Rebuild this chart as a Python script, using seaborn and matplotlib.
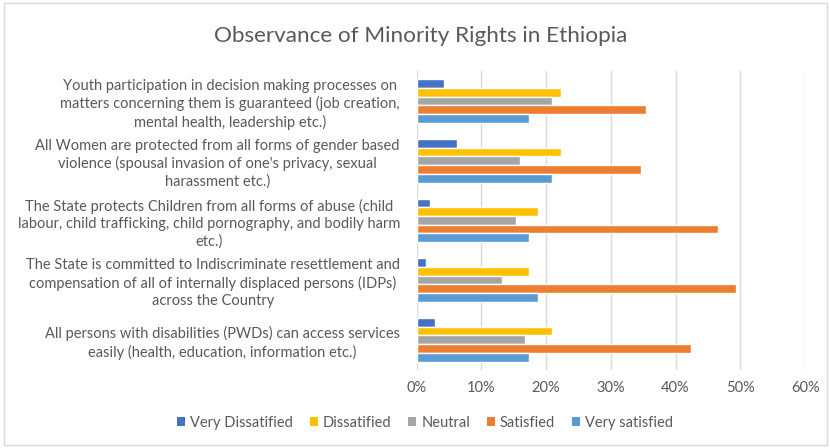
import matplotlib
matplotlib.use("Agg")
import matplotlib.pyplot as plt
import seaborn as sns
import pandas as pd
from matplotlib.patches import Rectangle, Patch
from matplotlib.ticker import FuncFormatter

categories = [
    "Youth participation in decision making processes on\nmatters concerning them is guaranteed (job creation,\nmental health, leadership etc.)",
    "All Women are protected from all forms of gender based\nviolence (spousal invasion of one's privacy, sexual\nharassment etc.)",
    "The State protects Children from all forms of abuse (child\nlabour, child trafficking, child pornography, and bodily harm\netc.)",
    "The State is committed to Indiscriminate resettlement and\ncompensation of all of internally displaced persons (IDPs)\nacross the Country",
    "All persons with disabilities (PWDs) can access services\neasily (health, education, information etc.)",
]
series = ["Very Dissatified", "Dissatified", "Neutral", "Satisfied", "Very satisfied"]
very_dissatisfied = [4.17, 6.25, 2.08, 1.39, 2.78]
dissatisfied = [22.22, 22.22, 18.75, 17.36, 20.83]
neutral = [20.83, 15.97, 15.28, 13.19, 16.67]
satisfied = [35.42, 34.72, 46.53, 49.31, 42.36]
very_satisfied = [17.36, 20.83, 17.36, 18.75, 17.36]
x_ticks = [0, 10, 20, 30, 40, 50, 60]
colors = ["#4472C4", "#FFC000", "#A5A5A5", "#ED7D31", "#5B9BD5"]

values = [very_dissatisfied, dissatisfied, neutral, satisfied, very_satisfied]
rows = []
for s, vals in zip(series, values):
    for c, v in zip(categories, vals):
        rows.append({"category": c, "series": s, "value": v})
df = pd.DataFrame(rows)

sns.set_theme(style="white")
plt.rcParams["font.family"] = ["Lato", "DejaVu Sans"]

fig = plt.figure(figsize=(8.3, 4.48), dpi=100)
ax = fig.add_axes([0.502, 0.175, 0.468, 0.666])

sns.barplot(data=df, y="category", x="value", hue="series", hue_order=series,
            order=categories, palette=colors, width=0.73, orient="h",
            saturation=1, ax=ax, legend=False)

ax.set_xlim(0, 60)
ax.set_xticks(x_ticks)
ax.xaxis.set_major_formatter(FuncFormatter(lambda v, p: f"{v:.0f}%"))
ax.set_xlabel("")
ax.set_ylabel("")
for sp in ax.spines.values():
    sp.set_visible(False)
ax.grid(axis="x", color="#D9D9D9", linewidth=1)
ax.grid(axis="y", visible=False)
ax.set_axisbelow(True)
ax.tick_params(axis="y", length=0, pad=12, labelsize=10.5, labelcolor="#595959")
ax.tick_params(axis="x", length=0, pad=8, labelsize=10.5, labelcolor="#595959")
for t in ax.get_yticklabels():
    t.set_multialignment("center")
    t.set_linespacing(1.3)

fig.text(421 / 830, 1 - 36 / 448, "Observance of Minority Rights in Ethiopia",
         ha="center", va="center", fontsize=16.2, color="#595959")

handles = [Patch(facecolor=c, edgecolor="none") for c in colors]
fig.legend(handles, series, loc="center", bbox_to_anchor=(425 / 830, 25 / 448), ncol=5,
           frameon=False, fontsize=10.5, labelcolor="#595959",
           handlelength=0.55, handleheight=0.55, handletextpad=0.35, columnspacing=1.14)

fig.patches.append(Rectangle((4 / 830, 3 / 448), 823 / 830, 442 / 448,
                             transform=fig.transFigure, fill=False,
                             edgecolor="#D9D9D9", linewidth=1))

fig.savefig("out.png", dpi=100)
